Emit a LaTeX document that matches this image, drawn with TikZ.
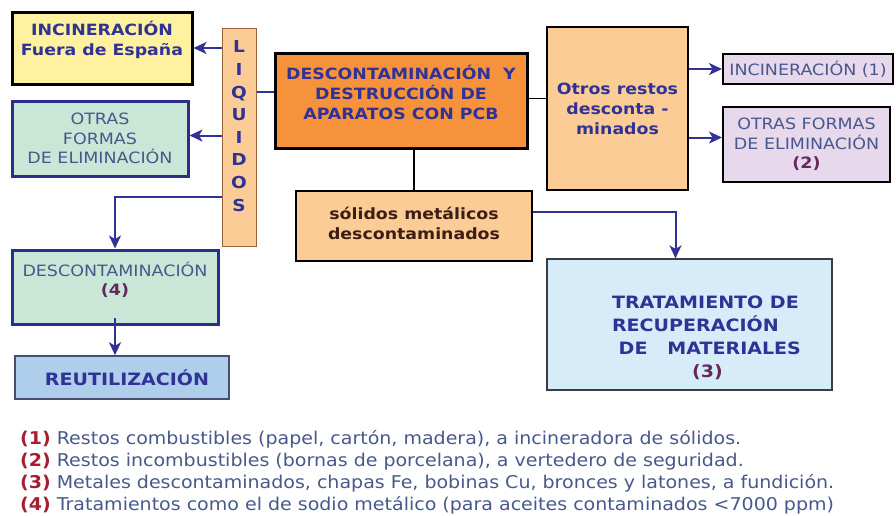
\documentclass[tikz,border=0pt]{standalone}
\usepackage{fontspec}
\setmainfont[FakeStretch=1.12]{DejaVu Sans}
\newfontfamily\legendfont[FakeStretch=1.08]{DejaVu Sans}
\usetikzlibrary{positioning}
\usetikzlibrary{arrows.meta}
\definecolor{textBlue}{RGB}{48,50,150}
\definecolor{softBlue}{RGB}{72,88,140}
\definecolor{numPurple}{RGB}{100,40,95}
\definecolor{numRed}{RGB}{165,30,50}
\definecolor{lineBlue}{RGB}{50,50,150}
\definecolor{frameBlue}{RGB}{45,45,140}
\definecolor{yellowFill}{RGB}{255,241,160}
\definecolor{greenFill}{RGB}{200,231,214}
\definecolor{orangeFill}{RGB}{247,146,60}
\definecolor{paleOrange}{RGB}{252,204,150}
\definecolor{lavender}{RGB}{231,216,236}
\definecolor{paleBlue}{RGB}{214,236,248}
\definecolor{reuseBlue}{RGB}{174,206,236}
\newcommand{\refnum}[1]{{\bfseries\color{numPurple}(#1)}}
\newcommand{\legnum}[1]{{\bfseries\color{numRed}(#1)}}
\tikzset{%
	% Specifications for style of nodes:
	base/.style = {rectangle, draw=black, align=center, inner sep=2pt},
	boldText/.style = {font=\fontsize{15.5}{20}\selectfont\bfseries, text=textBlue},
	thinText/.style = {font=\fontsize{15.6}{19.5}\selectfont, text=softBlue},
	yellowBox/.style = {base, boldText, fill=yellowFill, line width=3pt},
	greenBox/.style = {base, thinText, fill=greenFill, draw=frameBlue, line width=3pt},
	orangeBox/.style = {base, boldText, fill=paleOrange, line width=2.5pt},
	lilacBox/.style = {base, thinText, fill=lavender, line width=2pt},
	link/.style = {draw=lineBlue, line width=2pt},
	blackLink/.style = {draw=black, line width=1.6pt},
	arrow/.style = {link, -{Stealth[length=13pt, width=12pt, inset=3.5pt]}}
}
\begin{document}
\begin{tikzpicture}[x=1pt, y=-1pt]
	\useasboundingbox (0,0) rectangle (896,515);
	\node (incFuera) [yellowBox, minimum width=180pt, minimum height=72pt] at (102,48) {INCINERACIÓN\\Fuera de España\\\mbox{}};
	\node (otrasFormas) [greenBox, minimum width=176pt, minimum height=75pt] at (100,138.5) {OTRAS\\FORMAS\\DE ELIMINACIÓN};
	\node (liquidos) [base, fill=paleOrange, draw={rgb,255:red,150;green,100;blue,60}, line width=1pt, minimum width=34pt, minimum height=218pt] at (239,137) {};
	\node (liqLetters) [boldText, font=\fontsize{16.5}{22.6}\selectfont\bfseries, align=center] at (239,126) {L\\I\\Q\\U\\I\\D\\O\\S};
	\node (mainBox) [base, boldText, fill=orangeFill, line width=3pt, minimum width=252pt, minimum height=95pt] at (401,100.5) {DESCONTAMINACIÓN\ \ Y\\DESTRUCCIÓN DE\\APARATOS CON PCB\\[-3pt]\mbox{}};
	\node (otrosRestos) [orangeBox, minimum width=141pt, minimum height=163pt] at (617.5,108.5) {Otros restos\\desconta -\\minados};
	\node (incUno) [lilacBox, minimum width=170pt, minimum height=30pt] at (808,69) {INCINERACIÓN (1)};
	\node (otrasDos) [lilacBox, minimum width=167pt, minimum height=75pt] at (806.5,144.5) {OTRAS FORMAS\\DE ELIMINACIÓN\\\refnum{2}};
	\node (solidos) [orangeBox, text={rgb,255:red,60;green,30;blue,20}, line width=2pt, minimum width=236pt, minimum height=70pt] at (414,226) {\mbox{}\\[-12pt]sólidos metálicos\\descontaminados};
	\node (tratamiento) [base, boldText, font=\fontsize{17}{23}\selectfont\bfseries, fill=paleBlue, draw={rgb,255:red,60;green,60;blue,70}, line width=1.2pt, minimum width=285pt, minimum height=131pt, align=left] at (689.5,324.5) {\mbox{}\\[16pt]\hspace{34pt}TRATAMIENTO DE\\\hspace{34pt}RECUPERACIÓN\\\hspace{34pt}\ DE\ \ \ MATERIALES\\\hspace{114pt}\refnum{3}};
	\node (descCuatro) [greenBox, minimum width=206pt, minimum height=74pt] at (115,287) {DESCONTAMINACIÓN\\\refnum{4}\\[-3pt]\mbox{}};
	\node (reutil) [base, boldText, font=\fontsize{17}{20}\selectfont\bfseries, fill=reuseBlue, draw={rgb,255:red,70;green,80;blue,110}, line width=1.5pt, minimum width=214pt, minimum height=43pt] at (122,377.5) {\hspace{10pt}REUTILIZACIÓN};
	% connectors
	\draw[link] ([yshift=8.5pt]mainBox.west) -- ([yshift=8.5pt]mainBox.west -| liquidos.east);
	\draw[arrow] (incFuera.east -| liquidos.west) -- (incFuera.east);
	\draw[arrow] ([yshift=3pt]otrasFormas.east -| liquidos.west) -- ([yshift=3pt]otrasFormas.east);
	\draw[arrow] ([yshift=-60pt]liquidos.west) -| (descCuatro.north);
	\draw[arrow] ([yshift=8pt]descCuatro.south) -- (descCuatro.south |- reutil.north);
	\draw[blackLink] (solidos.north) -- (solidos.north |- mainBox.south);
	\draw[blackLink] ([yshift=2pt]mainBox.east) -- ([yshift=2pt]mainBox.east -| otrosRestos.west);
	\draw[arrow] (incUno.west -| otrosRestos.east) -- (incUno.west);
	\draw[arrow] ([yshift=7pt]otrasDos.west -| otrosRestos.east) -- ([yshift=7pt]otrasDos.west);
	\draw[arrow] ([yshift=14pt]solidos.east) -| ([xshift=-14pt]tratamiento.north);
	% legend
	\node (legend) [anchor=north west, align=left, inner sep=0pt, text=softBlue, font=\legendfont\fontsize{17.6}{22}\selectfont] at (20,430) {\legnum{1} Restos combustibles (papel, cartón, madera), a incineradora de sólidos.\\
		\legnum{2} Restos incombustibles (bornas de porcelana), a vertedero de seguridad.\\
		\legnum{3} Metales descontaminados, chapas Fe, bobinas Cu, bronces y latones, a fundición.\\
		\legnum{4} Tratamientos como el de sodio metálico (para aceites contaminados <7000 ppm)};
\end{tikzpicture}
\end{document}
